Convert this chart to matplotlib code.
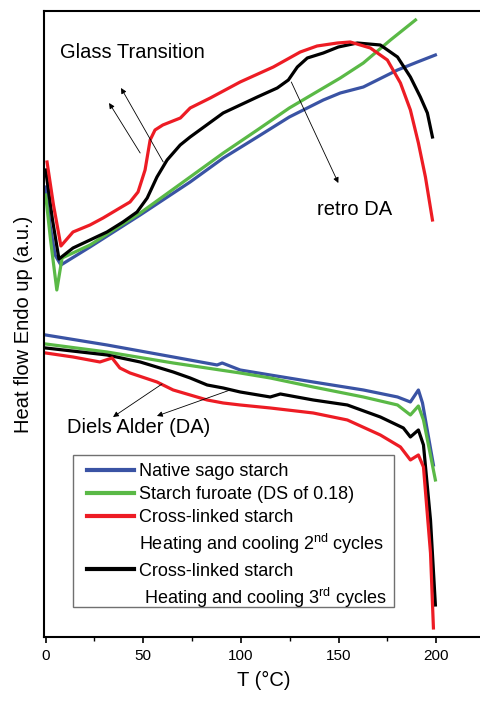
import numpy as np
import matplotlib
matplotlib.use('Agg')
import matplotlib.pyplot as plt
from matplotlib.lines import Line2D
from matplotlib.patches import Rectangle
from matplotlib.ticker import MultipleLocator

plt.rcParams['font.family'] = ['Liberation Sans', 'DejaVu Sans']
plt.rcParams['mathtext.fontset'] = 'custom'
plt.rcParams['mathtext.rm'] = 'Liberation Sans'

# heating scans (upper traces), T in degC, heat flow in a.u.
native_heat_t = [0, 2.2, 4.8, 7.8, 22.7, 48.4, 74, 91, 108.4, 124.8, 142.2, 150.9, 162.7, 180.2, 190.4, 199.6]
native_heat_q = [4.50, 4.12, 3.82, 3.72, 3.90, 4.22, 4.55, 4.79, 5.00, 5.20, 5.37, 5.44, 5.50, 5.67, 5.75, 5.82]

furoate_heat_t = [0, 2.5, 5.7, 8.4, 22.7, 48.4, 74, 91, 108.4, 124.8, 142.2, 150.9, 162.7, 176.6, 189.4]
furoate_heat_q = [4.42, 3.97, 3.47, 3.79, 3.92, 4.24, 4.60, 4.84, 5.07, 5.29, 5.49, 5.59, 5.74, 5.97, 6.17]

cl2_heat_t = [0.7, 4, 7.8, 14, 22.7, 29.4, 38, 43.2, 47.3, 50.9, 53.5, 56, 60, 69, 74, 84.3, 99.6,
              116.6, 130.4, 139, 149.4, 156, 166.3, 175, 181.7, 186.8, 190.9, 194.5, 198.1]
cl2_heat_q = [4.75, 4.32, 3.91, 4.05, 4.12, 4.19, 4.29, 4.35, 4.45, 4.67, 4.97, 5.07, 5.12, 5.19, 5.29, 5.39, 5.55,
              5.70, 5.85, 5.91, 5.94, 5.95, 5.89, 5.77, 5.54, 5.27, 4.94, 4.60, 4.17]

cl3_heat_t = [0, 3.5, 6.8, 14, 22.7, 31.4, 39.6, 46.8, 52, 57, 62.2, 68.9, 74, 90.9, 108.4, 118.6, 124.3,
              128.9, 134, 142.2, 149.9, 159.6, 171.4, 180.2, 186.8, 191.9, 195.5, 198.1]
cl3_heat_q = [4.67, 4.17, 3.78, 3.89, 3.97, 4.05, 4.15, 4.25, 4.39, 4.60, 4.77, 4.92, 5.00, 5.24, 5.40, 5.49, 5.57,
              5.70, 5.79, 5.84, 5.90, 5.94, 5.92, 5.80, 5.60, 5.40, 5.24, 5.00]

# cooling scans (lower traces)
native_cool_t = [0, 31.4, 65.3, 87.8, 90.4, 99.6, 115, 137, 162.7, 180.2, 186.8, 190.9, 193, 198.6]
native_cool_q = [3.02, 2.92, 2.80, 2.72, 2.74, 2.67, 2.62, 2.55, 2.47, 2.40, 2.35, 2.47, 2.34, 1.72]

furoate_cool_t = [0, 31.4, 65.3, 99.6, 115, 137, 162.7, 180.2, 186.8, 190.9, 193.5, 199.6]
furoate_cool_q = [2.93, 2.85, 2.74, 2.64, 2.59, 2.50, 2.40, 2.32, 2.22, 2.31, 2.17, 1.57]

cl3_cool_t = [0, 31.4, 48.4, 65.3, 74, 82.7, 90.9, 99.6, 115, 120.2, 137, 154.5, 171.4, 183.2, 186.8,
              190.9, 193.5, 197.1, 199.6]
cl3_cool_q = [2.89, 2.82, 2.75, 2.65, 2.59, 2.52, 2.49, 2.45, 2.40, 2.43, 2.37, 2.32, 2.20, 2.09, 2.00,
              2.07, 1.92, 1.17, 0.32]

cl2_cool_t = [0, 14, 27.8, 34, 38, 43.2, 57, 65.3, 74, 82.7, 90.9, 99.6, 115, 137, 154.5, 171.4, 181.7,
              186.8, 190.9, 193.5, 197.1, 198.6]
cl2_cool_q = [2.84, 2.80, 2.75, 2.79, 2.69, 2.64, 2.55, 2.47, 2.42, 2.37, 2.34, 2.32, 2.29, 2.24, 2.17, 2.02, 1.90,
              1.77, 1.82, 1.70, 0.84, 0.09]

BLUE = '#3a53a4'
GREEN = '#5ab946'
RED = '#ed1c24'
BLACK = '#000000'

fig = plt.figure(figsize=(4.81, 7.05), dpi=100)
ax = fig.add_axes([0.0909, 0.0965, 0.9133, 0.8879])

lw = 2.3
ax.plot(native_heat_t, native_heat_q, color=BLUE, lw=lw)
ax.plot(furoate_heat_t, furoate_heat_q, color=GREEN, lw=lw)
ax.plot(cl3_heat_t, cl3_heat_q, color=BLACK, lw=lw)
ax.plot(cl2_heat_t, cl2_heat_q, color=RED, lw=lw)

ax.plot(native_cool_t, native_cool_q, color=BLUE, lw=lw)
ax.plot(furoate_cool_t, furoate_cool_q, color=GREEN, lw=lw)
ax.plot(cl3_cool_t, cl3_cool_q, color=BLACK, lw=lw)
ax.plot(cl2_cool_t, cl2_cool_q, color=RED, lw=lw)

ax.set_xlim(-1, 224)
ax.set_ylim(0, 6.26)

for s in ax.spines.values():
    s.set_linewidth(1.5)
ax.xaxis.set_major_locator(MultipleLocator(50))
ax.xaxis.set_minor_locator(MultipleLocator(25))
ax.tick_params(axis='x', which='major', direction='out', length=4.5, width=1.2, labelsize=11, pad=4)
ax.tick_params(axis='x', which='minor', direction='out', length=3, width=1.0)
ax.set_yticks([])

ax.set_xlabel('T (°C)', fontsize=14.5, labelpad=6)
ax.set_ylabel('Heat flow Endo up (a.u.)', fontsize=14.5, labelpad=8)

arrow = dict(arrowstyle='-|>', color='black', lw=0.6, mutation_scale=8, shrinkA=0, shrinkB=0)
ax.annotate('', xy=(32.5, 5.34), xytext=(48.4, 4.84), arrowprops=arrow)
ax.annotate('', xy=(38.6, 5.49), xytext=(60.2, 4.75), arrowprops=arrow)
ax.annotate('', xy=(149.9, 4.54), xytext=(125.8, 5.55), arrowprops=arrow)
ax.annotate('', xy=(34.5, 2.20), xytext=(59.6, 2.53), arrowprops=arrow)
ax.annotate('', xy=(57, 2.21), xytext=(94.5, 2.47), arrowprops=arrow)

ax.text(7.4, 5.84, 'Glass Transition', fontsize=14.5, va='center', ha='left')
ax.text(139, 4.27, 'retro DA', fontsize=14.5, va='center', ha='left')
ax.text(10.9, 2.09, 'Diels Alder (DA)', fontsize=14.5, va='center', ha='left')

handles = [
    Line2D([], [], color=BLUE, lw=3),
    Line2D([], [], color=GREEN, lw=3),
    Line2D([], [], color=RED, lw=3),
    Line2D([], [], color='none'),
    Line2D([], [], color=BLACK, lw=3),
    Line2D([], [], color='none'),
]
labels = [
    'Native sago starch',
    'Starch furoate (DS of 0.18)',
    'Cross-linked starch',
    r'Heating and cooling 2$^{\mathrm{nd}}$ cycles',
    'Cross-linked starch',
    r' Heating and cooling 3$^{\mathrm{rd}}$ cycles',
]
# legend frame drawn separately so the handles sit inset like the original
ax.add_patch(Rectangle((0.0667, 0.0479), 0.7307, 0.2428, transform=ax.transAxes,
                       facecolor='white', edgecolor='#707070', lw=1.0, zorder=4))
leg = ax.legend(handles, labels, loc='upper left', bbox_to_anchor=(0.0986, 0.2780),
                borderaxespad=0, borderpad=0, fontsize=13, handlelength=2.6,
                handletextpad=0.28, labelspacing=0.34, frameon=False)
leg.set_zorder(5)

fig.savefig('out.png', dpi=100)
